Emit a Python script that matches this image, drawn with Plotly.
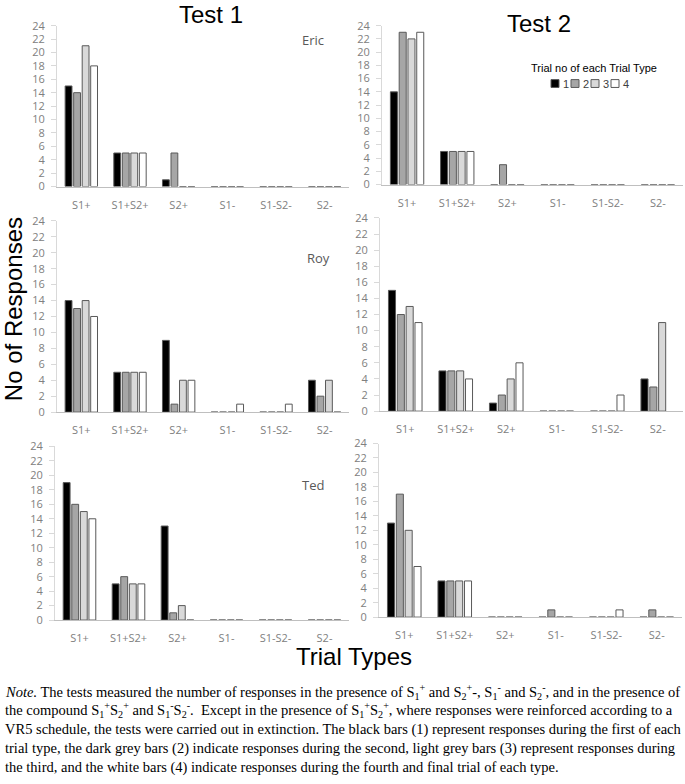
import plotly.graph_objects as go

# ---------------- data ----------------
categories = ["S1+", "S1+S2+", "S2+", "S1-", "S1-S2-", "S2-"]
trial_labels = ["1", "2", "3", "4"]
y_ticks = list(range(0, 25, 2))

# Test 1
eric_t1 = [[15, 5, 1, 0, 0, 0], [14, 5, 5, 0, 0, 0], [21, 5, 0, 0, 0, 0], [18, 5, 0, 0, 0, 0]]
roy_t1 = [[14, 5, 9, 0, 0, 4], [13, 5, 1, 0, 0, 2], [14, 5, 4, 0, 0, 4], [12, 5, 4, 1, 1, 0]]
ted_t1 = [[19, 5, 13, 0, 0, 0], [16, 6, 1, 0, 0, 0], [15, 5, 2, 0, 0, 0], [14, 5, 0, 0, 0, 0]]
# Test 2
eric_t2 = [[14, 5, 0, 0, 0, 0], [23, 5, 3, 0, 0, 0], [22, 5, 0, 0, 0, 0], [23, 5, 0, 0, 0, 0]]
roy_t2 = [[15, 5, 1, 0, 0, 4], [12, 5, 2, 0, 0, 3], [13, 5, 4, 0, 0, 11], [11, 4, 6, 0, 2, None]]
ted_t2 = [[13, 5, 0, 0, 0, 0], [17, 5, 0, 1, 0, 1], [12, 5, 0, 0, 0, 0], [7, 5, 0, 0, 1, 0]]

panels = [eric_t1, eric_t2, roy_t1, roy_t2, ted_t1, ted_t2]
names = ["Eric", "Roy", "Ted"]

# ---------------- style ----------------
W, H = 685, 784
fill_colors = ["#000000", "#a6a6a6", "#d9d9d9", "#ffffff"]
line_color = "#595959"
tick_font = dict(family="Open Sans, sans-serif", size=11, color="#808080")


def px_x(v):
    return min(max(v / W, 0.0), 1.0)


def px_y(v):
    return min(max(1 - v / H, 0.0), 1.0)


def fx(v):
    return v / W


def fy(v):
    return 1 - v / H


# panel pixel boxes on the page (left, right, top(=24), bottom(=0))
boxes = [
    (57, 349, 18, 182),
    (382, 683, 18, 180),
    (57, 349, 217, 412),
    (380, 683, 214, 411),
    (55, 349, 447, 624),
    (379, 682, 444, 621),
]

fig = go.Figure()
layout_axes = {}
for i, (data, box) in enumerate(zip(panels, boxes)):
    n = i + 1
    xa = "x" if n == 1 else f"x{n}"
    ya = "y" if n == 1 else f"y{n}"
    for t in range(4):
        fig.add_trace(go.Bar(
            x=categories, y=data[t], name=trial_labels[t],
            xaxis=xa, yaxis=ya, showlegend=False,
            marker=dict(color=fill_colors[t], line=dict(color=line_color, width=1)),
        ))
    l, r, tp, bt = box
    xkey = "xaxis" if n == 1 else f"xaxis{n}"
    ykey = "yaxis" if n == 1 else f"yaxis{n}"
    layout_axes[xkey] = dict(
        domain=[px_x(l), px_x(r)], anchor=ya, type="category",
        showline=True, linecolor="#bfbfbf", linewidth=1, ticks="",
        showgrid=False, zeroline=False, tickfont=tick_font,
        ticklabelstandoff=8, fixedrange=True,
    )
    layout_axes[ykey] = dict(
        domain=[px_y(bt), px_y(tp)], anchor=xa, range=[0, 24],
        tickvals=y_ticks, showline=True, linecolor="#d9d9d9", linewidth=1,
        ticks="outside", ticklen=5, tickcolor="#d9d9d9", tickwidth=1,
        showgrid=False, zeroline=False, tickfont=tick_font,
        ticklabelstandoff=4, fixedrange=True,
    )

fig.update_layout(**layout_axes)

annotations = []
title_font = dict(family="Liberation Sans, Arial", size=24, color="#000000")
# Test titles
annotations.append(dict(text="Test 1", x=fx(211), y=fy(7), xref="paper", yref="paper",
                        xanchor="center", yanchor="middle", showarrow=False, font=title_font))
annotations.append(dict(text="Test 2", x=fx(539), y=fy(16), xref="paper", yref="paper",
                        xanchor="center", yanchor="middle", showarrow=False, font=title_font))
# participant names
for nm, (xx, yy) in zip(names, [(313, 33), (318, 255), (313, 486)]):
    annotations.append(dict(text=nm, x=fx(xx), y=fy(yy), xref="paper", yref="paper",
                            xanchor="center", yanchor="middle", showarrow=False,
                            font=dict(family="Open Sans, sans-serif", size=13, color="#595959")))
# axis titles
annotations.append(dict(text="No of Responses", x=fx(13), y=fy(307), xref="paper",
                        yref="paper", xanchor="center", yanchor="middle", showarrow=False,
                        textangle=-90, font=title_font))
annotations.append(dict(text="Trial Types", x=fx(354), y=fy(661), xref="paper",
                        yref="paper", xanchor="center", yanchor="middle", showarrow=False,
                        font=title_font))

# legend (compact, drawn manually)
annotations.append(dict(text="Trial no of each Trial Type", x=fx(594), y=fy(61),
                        xref="paper", yref="paper", xanchor="center", yanchor="middle",
                        showarrow=False,
                        font=dict(family="Liberation Sans, Arial", size=11, color="#000000")))
shapes = []
for k, lab in enumerate(trial_labels):
    x0 = 551 + 20 * k
    shapes.append(dict(type="rect", xref="paper", yref="paper",
                       x0=fx(x0), x1=fx(x0 + 8), y0=fy(81), y1=fy(73),
                       fillcolor=fill_colors[k], line=dict(color=line_color, width=1)))
    annotations.append(dict(text=lab, x=fx(x0 + 10), y=fy(77), xref="paper",
                            yref="paper", xanchor="left", yanchor="middle", showarrow=False,
                            font=dict(family="Liberation Sans, Arial", size=11, color="#404040")))

S1p = "S<sub>1</sub><sup>+</sup>"
S2p = "S<sub>2</sub><sup>+</sup>"
S1m = "S<sub>1</sub><sup>-</sup>"
S2m = "S<sub>2</sub><sup>-</sup>"
note_lines = [
    f"<i>Note.</i> The tests measured the number of responses in the presence of {S1p} and {S2p}-, {S1m} and {S2m}, and in the presence of",
    f"the compound {S1p}{S2p} and {S1m}{S2m}.  Except in the presence of {S1p}{S2p}, where responses were reinforced according to a",
    "VR5 schedule, the tests were carried out in extinction. The black bars (1) represent responses during the first of each",
    "trial type, the dark grey bars (2) indicate responses during the second, light grey bars (3) represent responses during",
    "the third, and the white bars (4) indicate responses during the fourth and final trial of each type.",
]
note_y = [697, 716, 736, 755, 774]
for line, yy in zip(note_lines, note_y):
    annotations.append(dict(text=line, x=fx(3), y=fy(yy), xref="paper", yref="paper",
                            xanchor="left", yanchor="middle", showarrow=False,
                            font=dict(family="Liberation Serif, Times New Roman, serif", size=14.5,
                                      color="#000000")))

fig.update_layout(
    width=W, height=H,
    margin=dict(l=0, r=0, t=0, b=0),
    paper_bgcolor="#ffffff", plot_bgcolor="#ffffff",
    barmode="group", bargap=0.3, bargroupgap=0.2,
    showlegend=False,
    annotations=annotations, shapes=shapes,
)

fig.write_html(
    "out.html",
    config={"displayModeBar": False, "staticPlot": True},
    post_script=(
        "var d=document.documentElement, b=document.body;"
        "d.style.margin='0'; d.style.padding='0'; d.style.overflow='hidden';"
        "b.style.margin='0'; b.style.padding='0'; b.style.overflow='hidden';"
        "b.style.height='784px';"
        "var g=document.getElementById('{plot_id}');"
        "g.style.position='fixed'; g.style.top='0px'; g.style.left='0px';"
    ),
)
